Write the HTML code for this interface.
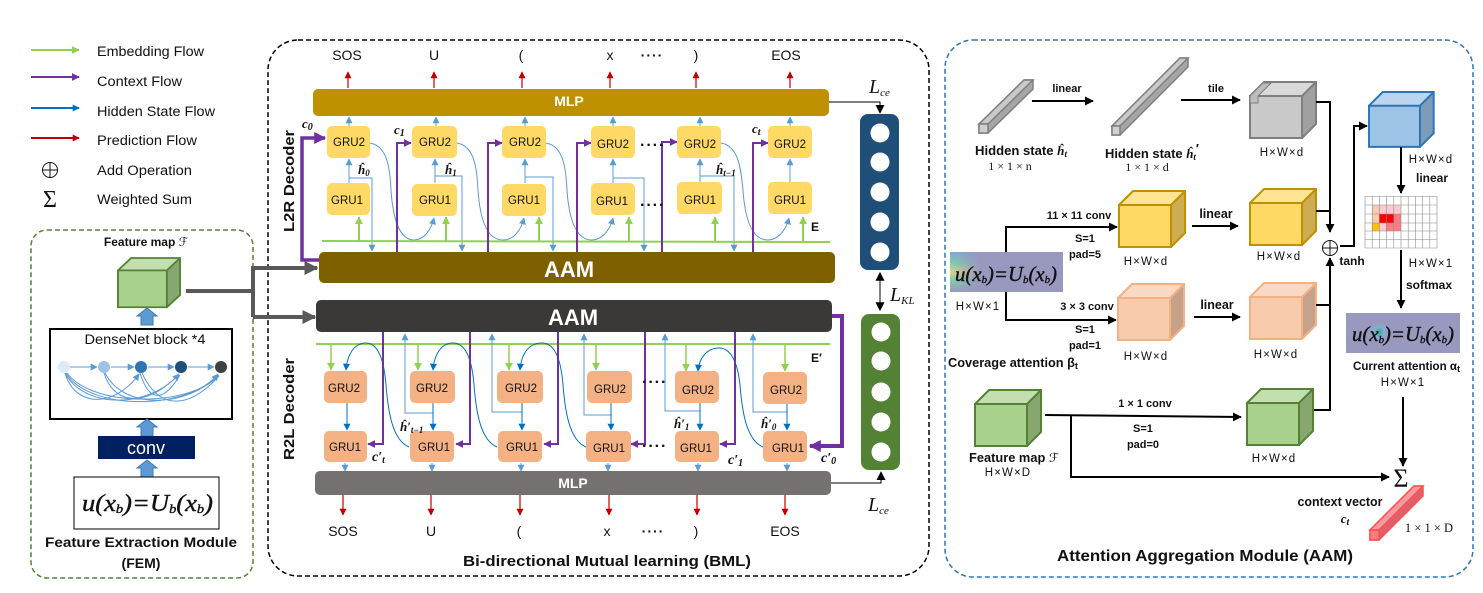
<!DOCTYPE html>
<html><head><meta charset="utf-8"><title>BML diagram</title>
<style>
html,body{margin:0;padding:0;background:#fff;width:1483px;height:593px;overflow:hidden}
svg{display:block}
text{font-family:"Liberation Sans",sans-serif;fill:#111}
.b{font-weight:bold}
.m{font-family:"Liberation Serif",serif;font-weight:bold;font-style:italic}
.s{font-family:"Liberation Serif",serif}
.leg{font-size:13.5px}
.tok{font-size:14px;text-anchor:middle}
.dim{font-size:11.5px;text-anchor:middle;letter-spacing:1.1px}
.sm{font-size:11px;font-weight:bold;text-anchor:middle}
.gt{font-size:11.5px;text-anchor:middle}
.eq{font-family:"Liberation Serif",serif;font-style:italic;stroke:#111;stroke-width:.4px}
</style></head><body>
<svg width="1483" height="593" viewBox="0 0 1483 593" xmlns="http://www.w3.org/2000/svg">
<defs>
<marker id="g" viewBox="0 0 10 10" refX="9" refY="5" markerWidth="8" markerHeight="9" markerUnits="userSpaceOnUse" orient="auto"><path d="M0 0L10 5L0 10z" fill="#92D050"/></marker>
<marker id="p" viewBox="0 0 10 10" refX="9" refY="5" markerWidth="8" markerHeight="8" markerUnits="userSpaceOnUse" orient="auto"><path d="M0 0L10 5L0 10z" fill="#7030A0"/></marker>
<marker id="P" viewBox="0 0 10 10" refX="9" refY="5" markerWidth="12" markerHeight="12" markerUnits="userSpaceOnUse" orient="auto"><path d="M0 0L10 5L0 10z" fill="#7030A0"/></marker>
<marker id="l" viewBox="0 0 10 10" refX="9" refY="5" markerWidth="7" markerHeight="8" markerUnits="userSpaceOnUse" orient="auto"><path d="M0 0L10 5L0 10z" fill="#5B9BD5"/></marker>
<marker id="d" viewBox="0 0 10 10" refX="9" refY="5" markerWidth="7" markerHeight="8" markerUnits="userSpaceOnUse" orient="auto"><path d="M0 0L10 5L0 10z" fill="#0070C0"/></marker>
<marker id="r" viewBox="0 0 10 10" refX="9" refY="5" markerWidth="7" markerHeight="7" markerUnits="userSpaceOnUse" orient="auto"><path d="M0 0L10 5L0 10z" fill="#C00000"/></marker>
<marker id="k" viewBox="0 0 10 10" refX="9" refY="5" markerWidth="9" markerHeight="10" markerUnits="userSpaceOnUse" orient="auto"><path d="M0 0L10 5L0 10z" fill="#000"/></marker>
<marker id="K" viewBox="0 0 10 10" refX="2" refY="5" markerWidth="9" markerHeight="10" markerUnits="userSpaceOnUse" orient="auto-start-reverse"><path d="M0 0L10 5L0 10z" fill="#000"/></marker>
<marker id="y" viewBox="0 0 10 10" refX="9" refY="5" markerWidth="14" markerHeight="14" markerUnits="userSpaceOnUse" orient="auto"><path d="M0 0L10 5L0 10z" fill="#595959"/></marker>
<g id="cube">
 <path d="M0 14L14 0H66V42L52 56H0Z" fill="currentColor"/>
 <path d="M0 14L14 0H66L52 14Z" fill="#fff" fill-opacity=".3"/>
 <path d="M52 14L66 0V42L52 56Z" fill="#000" fill-opacity=".2"/>
 <path d="M0 14H52V56H0ZM0 14L14 0H66V42L52 56M52 14L66 0" fill="none" stroke-width="2"/>
</g>
<polygon id="up" points="0,0 10,8 6,8 6,17 -6,17 -6,8 -10,8" fill="#5B9BD5" stroke="#3F79B5" stroke-width="1"/>
<radialGradient id="glow"><stop offset="0" stop-color="#2FA58F"/><stop offset=".5" stop-color="#7FB5D9" stop-opacity=".8"/><stop offset="1" stop-color="#9A9ABF" stop-opacity="0"/></radialGradient>
<linearGradient id="rain" x1="0" y1="0" x2="0" y2="1"><stop offset="0" stop-color="#7FA8D8"/><stop offset=".3" stop-color="#7FD0A8"/><stop offset=".5" stop-color="#E0D880"/><stop offset=".7" stop-color="#7FD0A8"/><stop offset="1" stop-color="#9A9ABF"/></linearGradient>
<linearGradient id="fade" x1="0" y1="0" x2="1" y2="0"><stop offset="0" stop-color="#fff"/><stop offset="1" stop-color="#000"/></linearGradient>
<mask id="fm"><rect x="950" y="252" width="30" height="40" fill="url(#fade)"/></mask>
</defs>

<!-- legend -->
<g stroke-width="2" fill="none">
<path d="M31 50H79" stroke="#92D050" marker-end="url(#g)"/>
<path d="M31 77H79" stroke="#7030A0" marker-end="url(#p)"/>
<path d="M31 108H79" stroke="#0070C0" marker-end="url(#d)"/>
<path d="M31 138H79" stroke="#C00000" marker-end="url(#r)"/>
</g>
<text class="leg" x="97" y="56" textLength="107" lengthAdjust="spacingAndGlyphs">Embedding Flow</text>
<text class="leg" x="97" y="86" textLength="85" lengthAdjust="spacingAndGlyphs">Context Flow</text>
<text class="leg" x="97" y="116" textLength="118" lengthAdjust="spacingAndGlyphs">Hidden State Flow</text>
<text class="leg" x="97" y="145" textLength="100" lengthAdjust="spacingAndGlyphs">Prediction Flow</text>
<text class="leg" x="97" y="175" textLength="95" lengthAdjust="spacingAndGlyphs">Add Operation</text>
<text class="leg" x="97" y="204" textLength="95" lengthAdjust="spacingAndGlyphs">Weighted Sum</text>
<circle cx="50" cy="170" r="7.500" fill="none" stroke="#111" stroke-width="1"/><path d="M42.500 170H57.500M50 162.500V177.500" stroke="#111"/>
<text class="s" x="50" y="207" font-size="24" text-anchor="middle">Σ</text>

<!-- FEM -->
<rect x="31" y="230" width="222" height="348" rx="16" fill="none" stroke="#548235" stroke-width="1.500" stroke-dasharray="5 3"/>
<text class="b" x="146" y="246" font-size="12" text-anchor="middle">Feature map <tspan style="font-family:'DejaVu Sans'" font-weight="normal">ℱ</tspan></text>
<use href="#cube" transform="translate(118,258) scale(.94,.88)" color="#A9D18E" stroke="#548235"/>
<use href="#up" x="147" y="308"/>
<rect x="50" y="329" width="182" height="90" fill="#fff" stroke="#000" stroke-width="2"/>
<text x="145" y="344" font-size="13.500" text-anchor="middle" textLength="121" lengthAdjust="spacingAndGlyphs">DenseNet block *4</text>
<g fill="none" stroke="#5B9BD5" stroke-width="1">
<path d="M70 367H97" marker-end="url(#l)"/><path d="M111 367H134" marker-end="url(#l)"/><path d="M148 367H174" marker-end="url(#l)"/><path d="M188 367H214" marker-end="url(#l)"/>
<path d="M65 373C75 408 115 408 139 374" marker-end="url(#l)"/>
<path d="M65 373C85 410 150 408 179 374" marker-end="url(#l)"/>
<path d="M66 373C90 412 190 410 218 374" marker-end="url(#l)"/>
<path d="M67 373C95 410 195 405 219 375"/>
<path d="M104 373C115 408 150 405 178 375"/>
<path d="M105 373C125 412 190 406 218 375"/>
<path d="M140 373C150 405 165 400 180 375"/>
<path d="M142 373C160 412 190 408 219 376"/>
</g>
<circle cx="64" cy="367" r="6" fill="#DEEBF7"/><circle cx="104" cy="367" r="6" fill="#9DC3E6"/><circle cx="141" cy="367" r="6" fill="#2E75B6"/><circle cx="181" cy="367" r="6" fill="#1F4E79"/><circle cx="221" cy="367" r="6" fill="#404040"/>
<use href="#up" x="147" y="419"/>
<rect x="98" y="436" width="97" height="23" fill="#002060"/>
<text x="146" y="454" font-size="18" text-anchor="middle" style="fill:#fff">conv</text>
<use href="#up" x="147" y="460"/>
<rect x="74" y="477" width="145" height="52" fill="#fff" stroke="#000" stroke-width="1"/>
<text class="eq" x="82" y="511" font-size="24" textLength="131" lengthAdjust="spacingAndGlyphs">u(x<tspan font-size="13" dy="2">b</tspan><tspan dy="-2">)=U</tspan><tspan font-size="13" dy="2">b</tspan><tspan dy="-2">(x</tspan><tspan font-size="13" dy="2">b</tspan><tspan dy="-2">)</tspan></text>
<text class="b" x="141" y="547" font-size="14" text-anchor="middle" textLength="192" lengthAdjust="spacingAndGlyphs">Feature Extraction Module</text>
<text class="b" x="141" y="568" font-size="14" text-anchor="middle">(FEM)</text>

<!-- BML frame -->
<rect x="268" y="40" width="661" height="536" rx="30" fill="none" stroke="#000" stroke-width="1.500" stroke-dasharray="5 3"/>

<!-- grey feed arrows -->
<g fill="none" stroke="#595959" stroke-width="4">
<path d="M186 291H253"/>
<path d="M253 317V268H317" marker-end="url(#y)"/>
<path d="M253 317H315" marker-end="url(#y)"/>
</g>

<!-- top tokens -->
<text class="tok" x="347" y="60">SOS</text><text class="tok" x="434" y="60">U</text><text class="tok" x="521" y="60">(</text><text class="tok" x="610" y="60">x</text><text class="tok b" x="652" y="60" letter-spacing="1">····</text><text class="tok" x="696" y="60">)</text><text class="tok" x="786" y="60">EOS</text>
<g stroke="#C00000" stroke-width="1.200" fill="none">
<path d="M348 88V72" marker-end="url(#r)"/><path d="M434 88V72" marker-end="url(#r)"/><path d="M522 88V72" marker-end="url(#r)"/><path d="M610 88V72" marker-end="url(#r)"/><path d="M696 88V72" marker-end="url(#r)"/><path d="M790 88V72" marker-end="url(#r)"/>
</g>
<rect x="313" y="89" width="516" height="27" rx="5" fill="#BF9000"/>
<text class="b" x="569" y="106" font-size="14" text-anchor="middle" style="fill:#fff">MLP</text>

<!-- L2R hidden lines behind -->
<g fill="none" stroke="#5B9BD5" stroke-width="1">
<path d="M349 126V117" marker-end="url(#l)"/><path d="M436 126V117" marker-end="url(#l)"/><path d="M525 126V117" marker-end="url(#l)"/><path d="M613 126V117" marker-end="url(#l)"/><path d="M700 126V117" marker-end="url(#l)"/><path d="M790 126V117" marker-end="url(#l)"/>
<path d="M349 183V159" marker-end="url(#l)"/><path d="M435 183V159" marker-end="url(#l)"/><path d="M525 183V159" marker-end="url(#l)"/><path d="M613 183V159" marker-end="url(#l)"/><path d="M700 183V159" marker-end="url(#l)"/><path d="M790 183V159" marker-end="url(#l)"/>
<path d="M349 178H372V251" marker-end="url(#l)"/>
<path d="M435 176H462V251" marker-end="url(#l)"/>
<path d="M525 177H553V251" marker-end="url(#l)"/>
<path d="M613 178H644V251" marker-end="url(#l)"/>
<path d="M700 176H734V251" marker-end="url(#l)"/>
<path d="M370 143C388 146 390 170 391 190C393 220 400 240 414 240C424 240 431 230 434 218" marker-end="url(#l)"/>
<path d="M457 143C475 146 477 170 478 190C480 220 487 240 503 240C514 240 521 230 524 218" marker-end="url(#l)"/>
<path d="M546 143C564 146 566 170 567 190C569 220 576 240 592 240C602 240 610 230 613 218" marker-end="url(#l)"/>
<path d="M721 143C739 146 741 170 743 190C745 220 752 240 768 240C778 240 786 230 789 218" marker-end="url(#l)"/>
</g>
<!-- L2R green -->
<path d="M322 241L830 242" stroke="#92D050" stroke-width="2" fill="none"/>
<g stroke="#92D050" stroke-width="2" fill="none">
<path d="M359 241V217" marker-end="url(#g)"/><path d="M446 241V217" marker-end="url(#g)"/><path d="M539 241V217" marker-end="url(#g)"/><path d="M629 241V217" marker-end="url(#g)"/><path d="M715 241V217" marker-end="url(#g)"/><path d="M803 241V217" marker-end="url(#g)"/>
</g>
<!-- L2R purple -->
<path d="M319 260H302V138H325" fill="none" stroke="#7030A0" stroke-width="3.500" marker-end="url(#P)"/>
<g fill="none" stroke="#7030A0" stroke-width="2">
<path d="M397 252V143H411" marker-end="url(#p)"/><path d="M488 252V143H502" marker-end="url(#p)"/><path d="M577 252V143H591" marker-end="url(#p)"/><path d="M662 252V142H677" marker-end="url(#p)"/><path d="M753 252V143H768" marker-end="url(#p)"/>
</g>
<!-- L2R GRUs -->
<g fill="#FFD966">
<rect x="327" y="126" width="43" height="32" rx="5"/><rect x="412" y="126" width="45" height="32" rx="5"/><rect x="502" y="126" width="44" height="32" rx="5"/><rect x="591" y="126" width="44" height="32" rx="5"/><rect x="677" y="126" width="44" height="32" rx="5"/><rect x="768" y="126" width="44" height="32" rx="5"/>
<rect x="327" y="183" width="43" height="32" rx="5"/><rect x="412" y="184" width="45" height="32" rx="5"/><rect x="502" y="184" width="44" height="32" rx="5"/><rect x="591" y="183" width="44" height="32" rx="5"/><rect x="677" y="182" width="45" height="32" rx="5"/><rect x="768" y="182" width="44" height="32" rx="5"/>
</g>
<text class="gt" x="349" y="146">GRU2</text><text class="gt" x="435" y="146">GRU2</text><text class="gt" x="525" y="146">GRU2</text><text class="gt" x="613" y="148">GRU2</text><text class="gt" x="700" y="148">GRU2</text><text class="gt" x="790" y="148">GRU2</text>
<text class="gt" x="347" y="204">GRU1</text><text class="gt" x="435" y="204">GRU1</text><text class="gt" x="524" y="204">GRU1</text><text class="gt" x="612" y="205">GRU1</text><text class="gt" x="700" y="204">GRU1</text><text class="gt" x="790" y="204">GRU1</text>
<text class="b" x="640" y="150" font-size="16" letter-spacing="1">····</text>
<text class="b" x="640" y="210" font-size="16" letter-spacing="1">····</text>
<rect x="319" y="252" width="516" height="31" rx="5" fill="#7F6000"/>
<text class="b" x="569" y="277" font-size="22" text-anchor="middle" style="fill:#fff">AAM</text>
<!-- L2R labels -->
<text class="m" x="302" y="128" font-size="13">c<tspan font-size="10" dy="2">0</tspan></text>
<text class="m" x="394" y="134" font-size="13">c<tspan font-size="10" dy="2">1</tspan></text>
<text class="m" x="752" y="133" font-size="13">c<tspan font-size="10" dy="2">t</tspan></text>
<text class="m" x="358" y="174" font-size="13">ĥ<tspan font-size="9" dy="2">0</tspan></text>
<text class="m" x="445" y="174" font-size="13">ĥ<tspan font-size="9" dy="2">1</tspan></text>
<text class="m" x="716" y="174" font-size="13">ĥ<tspan font-size="9" dy="2">t−1</tspan></text>
<text class="b" x="811" y="231" font-size="12">E</text>
<text transform="translate(294,232) rotate(-90)" class="b" font-size="15" textLength="102" lengthAdjust="spacingAndGlyphs">L2R  Decoder</text>
<text transform="translate(294,460) rotate(-90)" class="b" font-size="15" textLength="102" lengthAdjust="spacingAndGlyphs">R2L  Decoder</text>

<!-- nets -->
<rect x="860" y="114" width="39" height="156" rx="8" fill="#1F4E79"/>
<g fill="#fff"><circle cx="880" cy="133" r="9.500"/><circle cx="880" cy="162" r="9.500"/><circle cx="880" cy="192" r="9.500"/><circle cx="880" cy="222" r="9.500"/><circle cx="880" cy="252" r="9.500"/></g>
<rect x="861" y="314" width="39" height="156" rx="8" fill="#548235"/>
<g fill="#fff"><circle cx="881" cy="332" r="9.500"/><circle cx="881" cy="361" r="9.500"/><circle cx="881" cy="392" r="9.500"/><circle cx="881" cy="422" r="9.500"/><circle cx="881" cy="452" r="9.500"/></g>
<g fill="none" stroke="#000" stroke-width="1">
<path d="M829 102H880V113" marker-end="url(#k)"/>
<path d="M880 279V304" marker-start="url(#K)" marker-end="url(#K)"/>
<path d="M831 483H881V472" marker-end="url(#k)"/>
</g>
<text class="s" x="869" y="93" font-size="20" font-style="italic">L<tspan font-size="11" dy="3">ce</tspan></text>
<text class="s" x="868" y="511" font-size="20" font-style="italic">L<tspan font-size="11" dy="3">ce</tspan></text>
<text class="s" x="890" y="301" font-size="20" font-style="italic">L<tspan font-size="11" dy="3">KL</tspan></text>

<!-- R2L -->
<rect x="316" y="300" width="516" height="32" rx="5" fill="#3B3838"/>
<text class="b" x="573" y="325" font-size="22" text-anchor="middle" style="fill:#fff">AAM</text>
<path d="M832 316H842V446H810" fill="none" stroke="#7030A0" stroke-width="4" marker-end="url(#P)"/>
<path d="M316 344H830" stroke="#92D050" stroke-width="2" fill="none"/>
<g stroke="#92D050" stroke-width="1.500" fill="none">
<path d="M331 344V370" marker-end="url(#g)"/><path d="M418 344V370" marker-end="url(#g)"/><path d="M509 344V370" marker-end="url(#g)"/><path d="M596 344V370" marker-end="url(#g)"/><path d="M686 344V371" marker-end="url(#g)"/><path d="M785 344V371" marker-end="url(#g)"/>
</g>
<g fill="none" stroke="#5B9BD5" stroke-width="1">
<path d="M433 413H405V334" marker-end="url(#l)"/>
<path d="M522 412H492V334" marker-end="url(#l)"/>
<path d="M611 415H584V334" marker-end="url(#l)"/>
<path d="M700 411H665V334" marker-end="url(#l)"/>
<path d="M787 412H753V334" marker-end="url(#l)"/>
<path d="M345 463V471" marker-end="url(#l)"/><path d="M432 463V471" marker-end="url(#l)"/><path d="M521 463V471" marker-end="url(#l)"/><path d="M608 463V471" marker-end="url(#l)"/><path d="M698 463V471" marker-end="url(#l)"/><path d="M787 463V471" marker-end="url(#l)"/>
</g>
<g fill="none" stroke="#0070C0" stroke-width="1">
<path d="M347 403V430" marker-end="url(#d)"/><path d="M433 403V430" marker-end="url(#d)"/><path d="M522 403V430" marker-end="url(#d)"/><path d="M611 403V430" marker-end="url(#d)"/><path d="M700 403V430" marker-end="url(#d)"/><path d="M787 404V430" marker-end="url(#d)"/>
<path d="M409 447C392 440 388 410 386 385C384 360 378 343 366 343C354 343 347 355 346 370" marker-end="url(#d)"/>
<path d="M497 447C480 440 476 410 474 385C472 360 466 343 453 343C441 343 434 355 433 370" marker-end="url(#d)"/>
<path d="M586 447C569 440 565 410 563 385C561 360 555 343 542 343C528 343 521 355 520 370" marker-end="url(#d)"/>
<path d="M763 447C746 440 742 410 740 385C738 365 732 348 719 348C707 348 699 358 698 371" marker-end="url(#d)"/>
</g>
<g fill="none" stroke="#7030A0" stroke-width="2">
<path d="M383 332V444H368" marker-end="url(#p)"/><path d="M470 332V444H456" marker-end="url(#p)"/><path d="M558 332V444H544" marker-end="url(#p)"/><path d="M645 332V444H631" marker-end="url(#p)"/><path d="M735 332V444H720" marker-end="url(#p)"/>
</g>
<g fill="#F4B183">
<rect x="324" y="371" width="43" height="32" rx="5"/><rect x="410" y="371" width="45" height="32" rx="5"/><rect x="497" y="371" width="46" height="32" rx="5"/><rect x="587" y="371" width="45" height="32" rx="5"/><rect x="675" y="371" width="44" height="32" rx="5"/><rect x="763" y="372" width="44" height="32" rx="5"/>
<rect x="324" y="431" width="43" height="31" rx="5"/><rect x="410" y="431" width="44" height="31" rx="5"/><rect x="498" y="431" width="44" height="31" rx="5"/><rect x="586" y="431" width="45" height="31" rx="5"/><rect x="675" y="431" width="44" height="31" rx="5"/><rect x="763" y="431" width="44" height="31" rx="5"/>
</g>
<text class="gt" x="344" y="392">GRU2</text><text class="gt" x="432" y="392">GRU2</text><text class="gt" x="521" y="392">GRU2</text><text class="gt" x="610" y="393">GRU2</text><text class="gt" x="698" y="394">GRU2</text><text class="gt" x="786" y="394">GRU2</text>
<text class="gt" x="345" y="451">GRU1</text><text class="gt" x="434" y="451">GRU1</text><text class="gt" x="522" y="451">GRU1</text><text class="gt" x="609" y="452">GRU1</text><text class="gt" x="696" y="452">GRU1</text><text class="gt" x="788" y="452">GRU1</text>
<text class="b" x="642" y="387" font-size="16" letter-spacing="1">····</text>
<text class="b" x="642" y="451" font-size="16" letter-spacing="1">····</text>
<rect x="315" y="471" width="516" height="24" rx="5" fill="#767171"/>
<text class="b" x="573" y="488" font-size="14" text-anchor="middle" style="fill:#fff">MLP</text>
<g stroke="#C00000" stroke-width="1.200" fill="none">
<path d="M343 495V515" marker-end="url(#r)"/><path d="M431 495V515" marker-end="url(#r)"/><path d="M520 495V515" marker-end="url(#r)"/><path d="M609 495V515" marker-end="url(#r)"/><path d="M697 495V515" marker-end="url(#r)"/><path d="M785 495V515" marker-end="url(#r)"/>
</g>
<text class="tok" x="343" y="536">SOS</text><text class="tok" x="431" y="536">U</text><text class="tok" x="519" y="536">(</text><text class="tok" x="607" y="536">x</text><text class="tok b" x="653" y="536" letter-spacing="1">····</text><text class="tok" x="696" y="536">)</text><text class="tok" x="785" y="536">EOS</text>
<text class="m" x="372" y="461" font-size="14">c′<tspan font-size="10" dy="2">t</tspan></text>
<text class="m" x="400" y="431" font-size="13">ĥ′<tspan font-size="9" dy="2">t−1</tspan></text>
<text class="m" x="728" y="464" font-size="14">c′<tspan font-size="10" dy="2">1</tspan></text>
<text class="m" x="674" y="428" font-size="13">ĥ′<tspan font-size="9" dy="2">1</tspan></text>
<text class="m" x="821" y="462" font-size="14">c′<tspan font-size="10" dy="2">0</tspan></text>
<text class="m" x="761" y="428" font-size="13">ĥ′<tspan font-size="9" dy="2">0</tspan></text>
<text class="b" x="811" y="362" font-size="12">E′</text>
<text class="b" x="463" y="566" font-size="14.500" textLength="288" lengthAdjust="spacingAndGlyphs">Bi-directional Mutual learning (BML)</text>

<!-- AAM panel -->
<rect x="945" y="40" width="528" height="537" rx="28" fill="none" stroke="#2E75B6" stroke-width="1.500" stroke-dasharray="5 3"/>

<!-- hidden bars -->
<g stroke="#7F7F7F" stroke-width="1.500">
<path d="M979 124L1024 80H1033V89L988 133H979Z" fill="#A6A6A6"/>
<path d="M979 124L1024 80H1033L988 124Z" fill="#C9C9C9"/>
<rect x="979" y="124" width="9" height="9" fill="#D0D0D0"/>
<path d="M1112 126L1180 58H1188V67L1120 135H1112Z" fill="#A6A6A6"/>
<path d="M1112 126L1180 58H1188L1120 126Z" fill="#C9C9C9"/>
<rect x="1112" y="126" width="8" height="9" fill="#D0D0D0"/>
</g>
<g fill="none" stroke="#000" stroke-width="2">
<path d="M1032 101H1093" marker-end="url(#k)"/>
<path d="M1181 100H1240" marker-end="url(#k)"/>
</g>
<text class="sm" x="1067" y="92">linear</text><text class="sm" x="1216" y="92">tile</text>
<text class="b" x="975" y="155" font-size="13" textLength="92" lengthAdjust="spacingAndGlyphs">Hidden state <tspan class="m">ĥ</tspan><tspan class="m" font-size="9" dy="2">t</tspan></text>
<text class="s" x="1010" y="170" font-size="12" text-anchor="middle">1 × 1 × n</text>
<text class="b" x="1105" y="158" font-size="13" textLength="94" lengthAdjust="spacingAndGlyphs">Hidden state <tspan class="m">ĥ</tspan><tspan class="m" font-size="9" dy="2">t</tspan><tspan dy="-7">′</tspan></text>
<text class="s" x="1147" y="171" font-size="12" text-anchor="middle">1 × 1 × d</text>

<!-- cubes -->
<use href="#cube" x="1250" y="82" color="#C9C9C9" stroke="#7F7F7F"/>
<path d="M1250 96L1263 83H1271L1258 96V103H1250Z" fill="#BDBDBD" stroke="#7F7F7F"/>
<use href="#cube" x="1119" y="191" color="#FFD966" stroke="#BF9000"/>
<use href="#cube" x="1250" y="189" color="#FFD966" stroke="#BF9000"/>
<use href="#cube" x="1118" y="284" color="#F8CBAD" stroke="#F4B183"/>
<use href="#cube" x="1250" y="283" color="#F8CBAD" stroke="#F4B183"/>
<use href="#cube" x="975" y="390" color="#A9D18E" stroke="#548235"/>
<use href="#cube" x="1247" y="389" color="#A9D18E" stroke="#548235"/>
<use href="#cube" transform="translate(1369,92) scale(.98,.98)" color="#9DC3E6" stroke="#2E75B6"/>

<text class="dim" x="1282" y="156">H×W×d</text>
<text class="dim" x="1146" y="265">H×W×d</text>
<text class="dim" x="1279" y="260">H×W×d</text>
<text class="dim" x="1146" y="360">H×W×d</text>
<text class="dim" x="1276" y="358">H×W×d</text>
<text class="dim" x="1274" y="462">H×W×d</text>
<text class="dim" x="1431" y="163">H×W×d</text>
<text class="dim" x="1431" y="267">H×W×1</text>
<text class="dim" x="1403" y="386">H×W×1</text>
<text class="dim" x="978" y="310">H×W×1</text>
<text class="dim" x="1008" y="476">H×W×D</text>

<!-- connectors -->
<g fill="none" stroke="#000" stroke-width="2">
<path d="M1006 252V227H1117" marker-end="url(#k)"/>
<path d="M1006 292V320H1116" marker-end="url(#k)"/>
<path d="M1192 226H1238" marker-end="url(#k)"/>
<path d="M1194 317H1240" marker-end="url(#k)"/>
<path d="M1045 415L1241 417" marker-end="url(#k)"/>
<path d="M1071 415V477H1389" marker-end="url(#k)"/>
<path d="M1316 102H1330V232" marker-end="url(#k)"/>
<path d="M1316 211H1330"/>
<path d="M1316 305H1330"/>
<path d="M1314 410H1330V258" marker-end="url(#k)"/>
<path d="M1340 246H1354V126H1367" marker-end="url(#k)"/>
<path d="M1401 147V193" marker-end="url(#k)"/>
<path d="M1401 250V308" marker-end="url(#k)"/>
<path d="M1403 397V466" marker-end="url(#k)"/>
</g>
<circle cx="1330" cy="248" r="7.500" fill="#fff" stroke="#111" stroke-width="1"/><path d="M1322.500 248H1337.500M1330 240.500V255.500" stroke="#111"/>
<rect x="950" y="252" width="113" height="40" fill="#9999BF"/>
<rect x="950" y="252" width="30" height="40" fill="url(#rain)" mask="url(#fm)"/>
<text class="eq" x="955" y="281" font-size="21" textLength="102" lengthAdjust="spacingAndGlyphs">u(x<tspan font-size="11" dy="2">b</tspan><tspan dy="-2">)=U</tspan><tspan font-size="11" dy="2">b</tspan><tspan dy="-2">(x</tspan><tspan font-size="11" dy="2">b</tspan><tspan dy="-2">)</tspan></text>
<rect x="1346" y="313" width="114" height="40" fill="#9999BF"/>
<circle cx="1379" cy="332" r="11" fill="url(#glow)"/>
<text class="eq" x="1352" y="341" font-size="21" textLength="102" lengthAdjust="spacingAndGlyphs">u(x<tspan font-size="11" dy="2">b</tspan><tspan dy="-2">)=U</tspan><tspan font-size="11" dy="2">b</tspan><tspan dy="-2">(x</tspan><tspan font-size="11" dy="2">b</tspan><tspan dy="-2">)</tspan></text>

<!-- conv labels -->
<text class="sm" x="1079" y="219">11 × 11 conv</text>
<text class="sm" x="1085" y="242">S=1</text><text class="sm" x="1085" y="258">pad=5</text>
<text x="1216" y="218" font-size="12.500" font-weight="bold" text-anchor="middle">linear</text>
<text class="sm" x="1087" y="310">3 × 3 conv</text>
<text class="sm" x="1085" y="333">S=1</text><text class="sm" x="1085" y="349">pad=1</text>
<text x="1217" y="309" font-size="12.500" font-weight="bold" text-anchor="middle">linear</text>
<text class="b" x="948" y="367" font-size="12.500" textLength="130" lengthAdjust="spacingAndGlyphs">Coverage attention β<tspan font-size="9" dy="2">t</tspan></text>
<text class="b" x="969" y="462" font-size="12.500" textLength="90" lengthAdjust="spacingAndGlyphs">Feature map <tspan style="font-family:'DejaVu Sans'" font-weight="normal">ℱ</tspan></text>
<text class="sm" x="1145" y="407">1 × 1 conv</text>
<text class="sm" x="1143" y="432">S=1</text><text class="sm" x="1143" y="448">pad=0</text>
<text x="1352" y="265" font-size="12" font-weight="bold" text-anchor="middle">tanh</text>
<text x="1432" y="182" font-size="12" font-weight="bold" text-anchor="middle">linear</text>
<text x="1429" y="289" font-size="12" font-weight="bold" text-anchor="middle">softmax</text>
<text class="b" x="1353" y="370" font-size="11.500" textLength="107" lengthAdjust="spacingAndGlyphs">Current attention α<tspan font-size="9" dy="2">t</tspan></text>

<!-- grid -->
<rect x="1372" y="205" width="7" height="9" fill="#F8CBAD"/><rect x="1379" y="205" width="22" height="9" fill="#FFC9CD"/>
<rect x="1372" y="214" width="7" height="9" fill="#F8CBAD"/><rect x="1379" y="214" width="15" height="9" fill="#FF0000"/><rect x="1394" y="214" width="7" height="9" fill="#FF7C80"/>
<rect x="1372" y="223" width="7" height="8" fill="#FFC000"/><rect x="1379" y="223" width="7" height="8" fill="#FFC9CD"/><rect x="1386" y="223" width="15" height="8" fill="#FF7C80"/>
<path d="M1365 196.500H1437M1365 205H1437M1365 214H1437M1365 223H1437M1365 231H1437M1365 239.500H1437M1365 248H1437M1365 196V248M1372.200 196V248M1379.400 196V248M1386.600 196V248M1393.800 196V248M1401 196V248M1408.200 196V248M1415.400 196V248M1422.600 196V248M1429.800 196V248M1437 196V248" stroke="#8C8C8C" stroke-width=".6" fill="none"/>

<!-- sigma + red bar -->
<text class="s" x="1401" y="487" font-size="26" text-anchor="middle">Σ</text>
<g stroke="#FF5050" stroke-width="1.500">
<path d="M1370 530L1414 486H1423V496L1379 540H1370Z" fill="#E0606A"/>
<path d="M1370 530L1414 486H1423L1379 530Z" fill="#FF9AA0"/>
<rect x="1370" y="530" width="9" height="10" fill="#FF7C80"/>
</g>
<text class="b" x="1340" y="506" font-size="12.500" text-anchor="middle" textLength="85" lengthAdjust="spacingAndGlyphs">context vector</text>
<text class="m" x="1345" y="523" font-size="13" text-anchor="middle">c<tspan font-size="10" dy="2">t</tspan></text>
<text class="s" x="1429" y="532" font-size="12.500" text-anchor="middle">1 × 1 × D</text>
<text class="b" x="1057" y="561" font-size="16" textLength="296" lengthAdjust="spacingAndGlyphs">Attention Aggregation Module (AAM)</text>
</svg>
</body></html>
